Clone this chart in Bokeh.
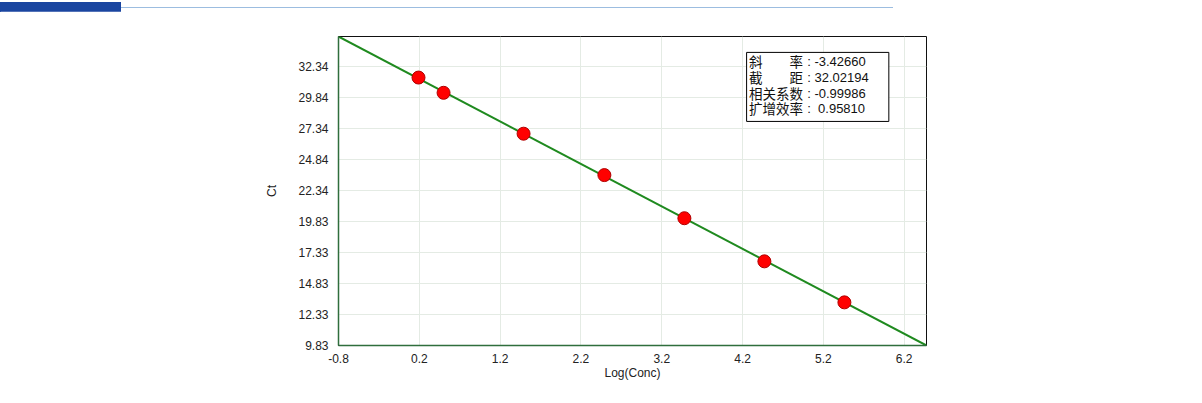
from bokeh.plotting import figure
from bokeh.models import (Range1d, FixedTicker, Label, BoxAnnotation, Div)
from bokeh.layouts import column
from bokeh.embed import file_html
from bokeh.resources import INLINE

# ---- data ----
log_conc = [0.19, 0.50, 1.49, 2.49, 3.48, 4.47, 5.46]
ct_vals = [31.45, 30.22, 26.92, 23.58, 20.10, 16.62, 13.31]
fit_x = [-0.8, 6.476]
fit_y = [34.763, 9.83]
x_ticks = [-0.8, 0.2, 1.2, 2.2, 3.2, 4.2, 5.2, 6.2]
y_ticks = [9.83, 12.33, 14.83, 17.33, 19.83, 22.335, 24.835, 27.335, 29.835, 32.335]
y_tick_labels = ["9.83", "12.33", "14.83", "17.33", "19.83", "22.34", "24.84", "27.34", "29.84", "32.34"]
stat_names = ["斜　　率", "截　　距", "相关系数", "扩增效率"]
stat_values = [": -3.42660", ": 32.02194", ": -0.99986", ":\u00a0\u00a00.95810"]

W, H = 1200, 390

header = Div(text=(
    '<div style="position:relative;width:1200px;height:11px;">'
    '<div style="position:absolute;left:0;top:1px;width:121px;height:10px;background:#1a45a0;"></div>'
    '<div style="position:absolute;left:121px;top:6px;width:772px;height:1px;background:#9cbde0;"></div>'
    '</div>'), width=W, height=11, margin=(0, 0, 0, 0))

p = figure(width=W, height=H, output_backend="svg", toolbar_location=None,
           x_range=Range1d(fit_x[0], fit_x[1]), y_range=Range1d(fit_y[1], fit_y[0]),
           min_border_left=338, min_border_right=274, min_border_top=25,
           min_border_bottom=56)
p.background_fill_color = "white"
p.border_fill_color = "white"
p.outline_line_color = "#111111"
p.outline_line_width = 1

p.xaxis.ticker = FixedTicker(ticks=x_ticks)
p.yaxis.ticker = FixedTicker(ticks=y_ticks)
p.yaxis.major_label_overrides = {t: l for t, l in zip(y_ticks, y_tick_labels)}
p.xaxis.major_label_overrides = {t: ("%.1f" % t) for t in x_ticks}
for ax in (p.xaxis, p.yaxis):
    ax.axis_line_color = "#2f6e3c"
    ax.axis_line_width = 1.5
    ax.major_tick_line_color = None
    ax.minor_tick_line_color = None
    ax.major_label_text_font = "Liberation Sans"
    ax.major_label_text_font_size = "12px"
    ax.major_label_text_color = "#222222"
    ax.axis_label_text_font = "Liberation Sans"
    ax.axis_label_text_font_size = "12px"
    ax.axis_label_text_font_style = "normal"
    ax.axis_label_text_color = "#222222"
p.xaxis.axis_label = "Log(Conc)"
p.yaxis.axis_label = "Ct"
p.xaxis.major_label_standoff = 2
p.yaxis.major_label_standoff = 4
p.xaxis.axis_label_standoff = 0
p.yaxis.axis_label_standoff = 16

p.xgrid.grid_line_color = "#e4ebe4"
p.ygrid.grid_line_color = "#e4ebe4"

p.line(fit_x, fit_y, line_color="#1f8a1f", line_width=2)
p.scatter(log_conc, ct_vals, size=13, fill_color="#ff0000",
          line_color="#b00000", line_width=1)

# stats box
box = BoxAnnotation(left=4.25, right=6.01, bottom=27.91, top=33.48,
                    fill_color="white", fill_alpha=1.0,
                    line_color="black", line_width=1, line_alpha=1.0)
p.add_layout(box)
row_y = [32.77, 31.48, 30.19, 28.98]
for name, val, yy in zip(stat_names, stat_values, row_y):
    p.add_layout(Label(x=4.28, y=yy, text=name, text_font="Noto Sans CJK SC",
                       text_font_size="13.5px", text_baseline="middle",
                       text_color="#111111"))
    p.add_layout(Label(x=5.0, y=yy, text=val, text_font="Liberation Sans",
                       text_font_size="13px", text_baseline="middle",
                       text_color="#111111"))

layout = column(header, p, spacing=0)
open("out.html", "w").write(file_html(layout, INLINE))
